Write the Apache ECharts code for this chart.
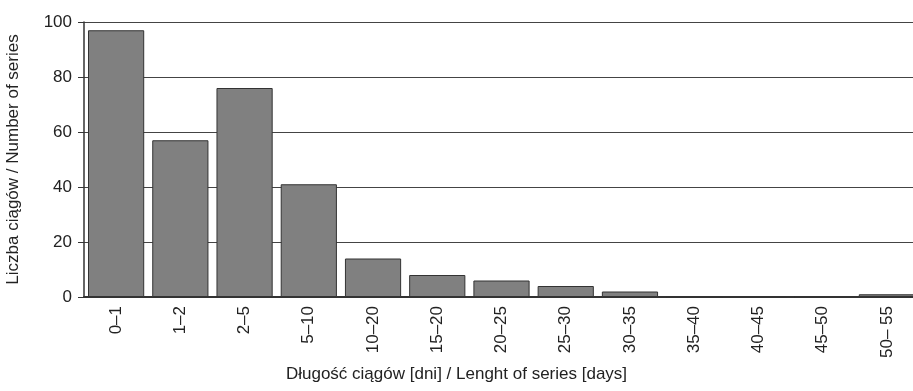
<!DOCTYPE html>
<html>
<head>
<meta charset="utf-8">
<script src="https://cdn.jsdelivr.net/npm/echarts@6/dist/echarts.min.js"></script>
<style>html,body{margin:0;padding:0;background:#fff}#c{width:913px;height:391px}</style>
</head>
<body>
<div id="c"></div>
<script>
const categories = ['0–1','1–2','2–5','5–10','10–20','15–20','20–25','25–30','30–35','35–40','40–45','45–50','50– 55'];
const counts = [97, 57, 76, 41, 14, 8, 6, 4, 2, 0, 0, 0, 1];
const yTicks = [0, 20, 40, 60, 80, 100];
const xTitle = 'Długość ciągów [dni] / Lenght of series [days]';
const yTitle = 'Liczba ciągów / Number of series';

const FONT = "'Liberation Sans', Arial, sans-serif";
const chart = echarts.init(document.getElementById('c'), null, {renderer: 'canvas'});
chart.setOption({
  animation: false,
  backgroundColor: '#fff',
  title: {
    text: xTitle, left: 'center', bottom: 3,
    textStyle: {fontFamily: FONT, fontSize: 17, fontWeight: 'normal', color: '#222'}
  },
  grid: {left: 84, top: 22, bottom: 94, width: 835, containLabel: false, outerBoundsMode: 'none'},
  xAxis: {
    type: 'category', data: categories,
    axisLine: {show: true, lineStyle: {color: '#333', width: 2}},
    axisTick: {show: false},
    axisLabel: {rotate: 90, margin: 9, fontFamily: FONT, fontSize: 17, color: '#222', interval: 0}
  },
  yAxis: {
    type: 'value', min: yTicks[0], max: yTicks[yTicks.length - 1], interval: 20,
    name: yTitle, nameLocation: 'middle', nameGap: 62,
    nameTextStyle: {fontFamily: FONT, fontSize: 17, color: '#222'},
    axisLine: {show: true, lineStyle: {color: '#333', width: 1.5}},
    axisTick: {show: true, length: 6, lineStyle: {color: '#333'}},
    axisLabel: {margin: 12, fontFamily: FONT, fontSize: 17, color: '#222'},
    splitLine: {show: true, lineStyle: {color: '#444', width: 1}}
  },
  series: [{
    type: 'bar', data: counts, barCategoryGap: '12.5%',
    itemStyle: {color: '#808080', borderColor: '#333', borderWidth: 1}
  }]
});
</script>
</body>
</html>
